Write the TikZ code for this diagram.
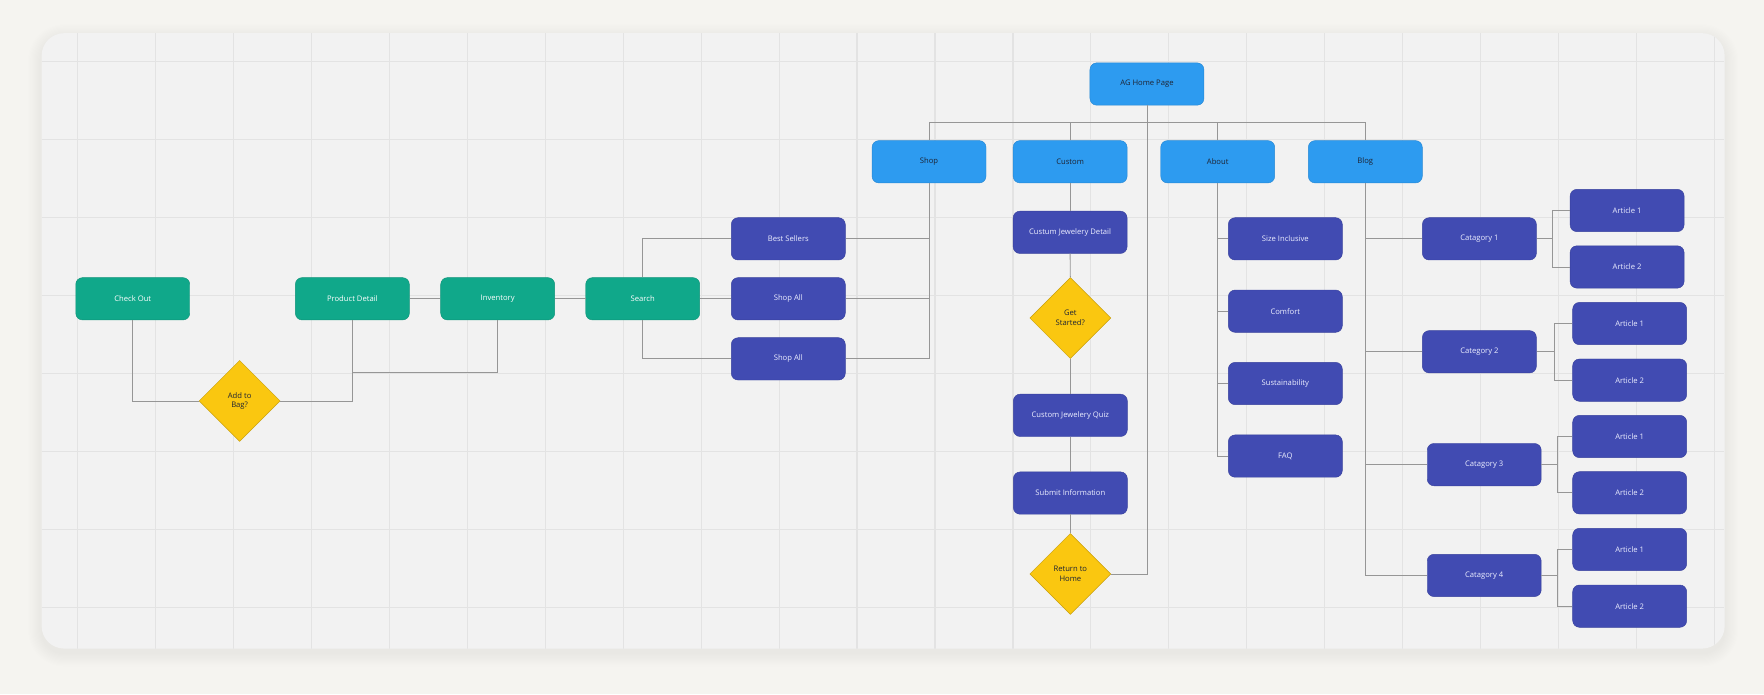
\documentclass[tikz,border=0pt]{standalone}
\usepackage{fontspec}
\setmainfont{Open Sans}
\usetikzlibrary{shapes.geometric}
\definecolor{bgc}{HTML}{F5F4F0}
\definecolor{cardc}{HTML}{F2F2F2}
\definecolor{gridc}{HTML}{E3E3E3}
\definecolor{connc}{HTML}{969696}
\definecolor{lblue}{HTML}{2D9BF0}
\definecolor{indigo}{HTML}{414BB2}
\definecolor{greenc}{HTML}{10A88A}
\definecolor{yellowc}{HTML}{FAC710}
\definecolor{darktxt}{HTML}{1E2433}
\definecolor{lighttxt}{HTML}{ECEEFF}
\begin{document}
\begin{tikzpicture}[x=1pt,y=-1pt,
  conn/.style={draw=connc, line width=0.75pt},
  boxbase/.style={rectangle, rounded corners=6pt, minimum width=101.3pt, minimum height=37.6pt, inner sep=0pt, font=\fontsize{6.8}{8}\selectfont, align=center, line width=0.4pt},
  bluebox/.style={boxbase, fill=lblue, draw=lblue!88!black, text=darktxt},
  indbox/.style={boxbase, fill=indigo, draw=indigo!88!black, text=lighttxt},
  greenbox/.style={boxbase, fill=greenc, draw=greenc!88!black, text=white},
  decision/.style={diamond, shape aspect=1, minimum width=72pt, minimum height=72pt, inner sep=0pt, fill=yellowc, draw=yellowc!80!black, line width=0.4pt, text=darktxt, font=\fontsize{6.8}{8.5}\selectfont, align=center}]
\useasboundingbox (0,0) rectangle (1568,617);
\fill[bgc] (0,0) rectangle (1568,617);
% soft card shadow
\foreach \i in {1,...,12}{
  \pgfmathsetmacro{\rr}{20+\i}
  \fill[black, opacity=0.005, rounded corners=\rr pt] ({37-\i},{29.5-\i+4}) rectangle ({1533+\i},{576.5+\i+4});
}
% card
\fill[cardc, rounded corners=20pt] (37,29.5) rectangle (1533,576.5);
% grid
\begin{scope}
  \clip[rounded corners=20pt] (37,29.5) rectangle (1533,576.5);
  \foreach \k in {0,...,21}{
    \draw[gridc, line width=1pt] ({68.8+69.3*\k},29.5) -- ({68.8+69.3*\k},576.5);
  }
  \foreach \k in {0,...,7}{
    \draw[gridc, line width=1pt] (37,{55+69.3*\k}) -- (1533,{55+69.3*\k});
  }
\end{scope}

% top level
\node[bluebox] (home) at (1019.5,74.7) {AG Home Page};
\node[bluebox] (shop) at (825.8,143.8) {Shop};
\node[bluebox] (custom) at (951.2,143.8) {Custom};
\node[bluebox] (about) at (1082.4,143.8) {About};
\node[bluebox] (blog) at (1213.6,143.8) {Blog};

% shop branch
\node[indbox] (best) at (700.7,212.3) {Best Sellers};
\node[indbox] (shopall1) at (700.7,265.6) {Shop All};
\node[indbox] (shopall2) at (700.7,319) {Shop All};
\node[greenbox] (search) at (571.3,265.6) {Search};
\node[greenbox] (inventory) at (442.4,265.6) {Inventory};
\node[greenbox] (product) at (313.2,265.6) {Product Detail};
\node[greenbox] (checkout) at (118,265.6) {Check Out};
\node[decision] (addbag) at (213,356.4) {Add to\\Bag?};

% custom branch
\node[indbox] (cjd) at (951.2,206.5) {Custum Jewelery Detail};
\node[decision] (getstarted) at (951.4,282.7) {Get\\Started?};
\node[indbox] (quiz) at (951.4,369.2) {Custom Jewelery Quiz};
\node[indbox] (submit) at (951.4,438.3) {Submit Information};
\node[decision] (return) at (951.4,510.2) {Return to\\Home};

% about branch
\node[indbox] (size) at (1142.5,212.3) {Size Inclusive};
\node[indbox] (comfort) at (1142.5,276.6) {Comfort};
\node[indbox] (sustain) at (1142.5,340.9) {Sustainability};
\node[indbox] (faq) at (1142.5,405.4) {FAQ};

% blog branch
\node[indbox] (cat1) at (1315,212.3) {Catagory 1};
\node[indbox] (cat2) at (1315,312.7) {Category 2};
\node[indbox] (cat3) at (1319.3,413) {Catagory 3};
\node[indbox] (cat4) at (1319.3,511.5) {Catagory 4};
\node[indbox] (a11) at (1446.3,187.1) {Article 1};
\node[indbox] (a12) at (1446.3,237.3) {Article 2};
\node[indbox] (a21) at (1448.6,287.6) {Article 1};
\node[indbox] (a22) at (1448.6,337.9) {Article 2};
\node[indbox] (a31) at (1448.6,388) {Article 1};
\node[indbox] (a32) at (1448.6,438.1) {Article 2};
\node[indbox] (a41) at (1448.6,488.4) {Article 1};
\node[indbox] (a42) at (1448.6,538.8) {Article 2};

% junction coordinates
\coordinate (bus) at (1019.5,108.7);
\coordinate (pj) at (442.4,331.3);
\coordinate (b1) at (1380.1,212.3);
\coordinate (b2) at (1381.6,312.7);
\coordinate (b3) at (1384,413);
\coordinate (b4) at (1384,511.5);

% connectors: top bus
\draw[conn] (home.south) |- (return.east);
\draw[conn] (shop.north) -- (shop.north |- bus) -- (blog.north |- bus) -- (blog.north);
\draw[conn] (custom.north) -- (custom.north |- bus);
\draw[conn] (about.north) -- (about.north |- bus);

% shop
\draw[conn] (shop.south) |- (shopall2.east);
\draw[conn] (best.east) -- (best.east -| shop.south);
\draw[conn] (shopall1.east) -- (shopall1.east -| shop.south);
\draw[conn] (best.west) -| (search.north);
\draw[conn] (search.south) |- (shopall2.west);
\draw[conn] (search.east) -- (shopall1.west);
\draw[conn] (inventory.east) -- (search.west);
\draw[conn] (product.east) -- (inventory.west);
\draw[conn] (inventory.south) -- (pj) -- (pj -| product.south);
\draw[conn] (product.south) |- (addbag.east);
\draw[conn] (checkout.south) |- (addbag.west);

% custom
\draw[conn] (custom.south) -- (cjd.north);
\draw[conn] (cjd.south) -- (getstarted.north);
\draw[conn] (getstarted.south) -- (quiz.north);
\draw[conn] (quiz.south) -- (submit.north);
\draw[conn] (submit.south) -- (return.north);

% about
\draw[conn] (about.south) |- (faq.west);
\draw[conn] (size.west) -- (size.west -| about.south);
\draw[conn] (comfort.west) -- (comfort.west -| about.south);
\draw[conn] (sustain.west) -- (sustain.west -| about.south);

% blog
\draw[conn] (blog.south) |- (cat4.west);
\draw[conn] (cat1.west) -- (cat1.west -| blog.south);
\draw[conn] (cat2.west) -- (cat2.west -| blog.south);
\draw[conn] (cat3.west) -- (cat3.west -| blog.south);

% categories to articles
\draw[conn] (cat1.east) -- (b1) |- (a11.west);
\draw[conn] (b1) |- (a12.west);
\draw[conn] (cat2.east) -- (b2) |- (a21.west);
\draw[conn] (b2) |- (a22.west);
\draw[conn] (cat3.east) -- (b3) |- (a31.west);
\draw[conn] (b3) |- (a32.west);
\draw[conn] (cat4.east) -- (b4) |- (a41.west);
\draw[conn] (b4) |- (a42.west);
\end{tikzpicture}
\end{document}
